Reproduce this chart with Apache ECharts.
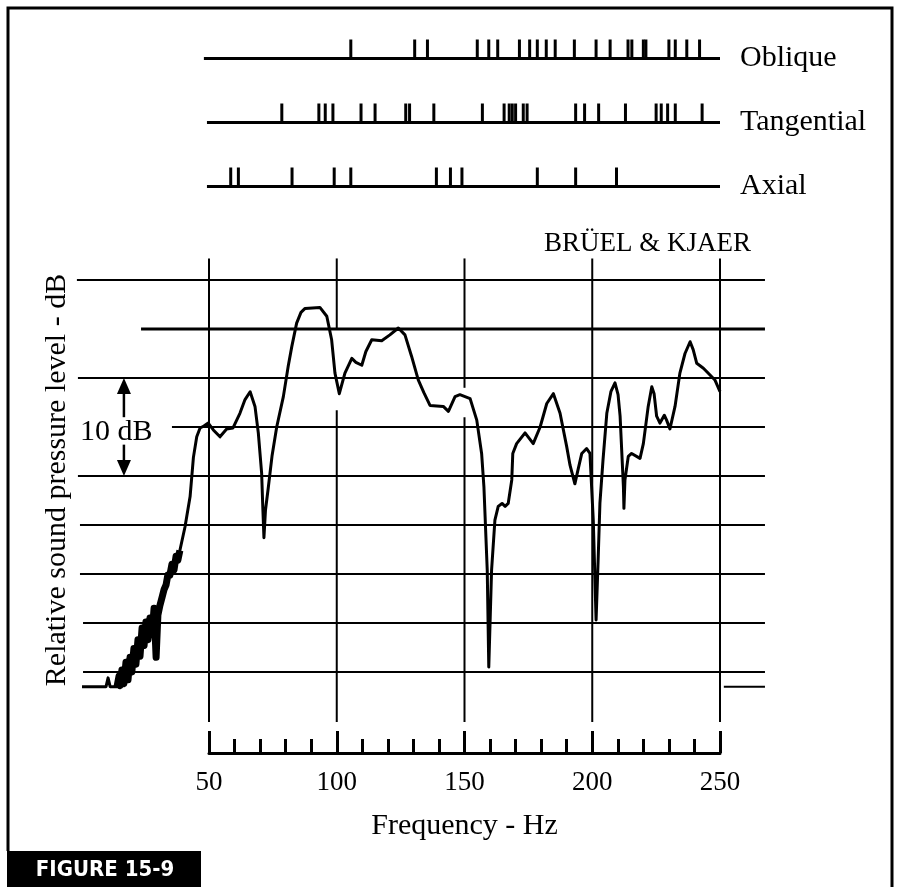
<!DOCTYPE html>
<html><head><meta charset="utf-8">
<script src="https://cdn.jsdelivr.net/npm/echarts@6/dist/echarts.min.js"></script>
<style>html,body{margin:0;padding:0;background:#fff}#c{width:900px;height:887px}</style>
</head><body><div id="c"></div>
<script>
// ---- measured response curve (frequency in Hz, relative level in dB) ----
const freqHz = [0.3,7.3,9.7,10.5,11.3,14.0,14.8,15.2,15.9,16.7,
17.5,18.3,19.1,19.8,20.6,21.4,22.2,23.0,23.8,24.6,
25.3,26.1,26.9,27.7,28.5,29.3,30.0,30.8,31.6,32.4,
33.2,33.9,34.7,35.5,36.3,37.1,37.8,38.6,40.6,42.6,
43.9,45.2,46.5,48.0,49.7,51.7,54.3,56.9,59.4,62.1,
64.1,66.1,68.0,69.3,70.6,71.1,71.5,72.1,73.2,74.7,
76.5,79.1,81.0,82.4,84.3,86.0,87.6,93.4,96.1,98.0,
99.3,101.0,103.2,105.9,107.5,109.8,111.4,113.7,117.6,120.8,
124.1,126.7,129.3,131.9,134.1,136.5,141.7,143.7,146.3,148.2,
152.2,154.8,156.7,157.6,158.9,159.5,160.6,161.9,163.2,164.7,
165.9,167.1,168.5,168.9,170.4,173.7,176.9,179.6,182.2,184.8,
187.4,190.0,191.3,193.2,194.4,195.9,197.8,199.1,200.4,201.5,
202.3,203.0,204.2,205.7,207.3,208.9,210.1,210.9,212.2,212.4,
212.8,214.1,215.4,218.7,220.0,221.9,223.3,224.2,225.2,226.5,
228.2,229.1,230.4,232.4,234.3,236.3,238.3,239.5,240.9,243.5,
246.1,248.0,250.0];
const levelDb = [-1.5,-1.5,-1.5,-0.6,-1.5,-1.5,-0.4,-1.4,0.2,-1.2,
1.0,-0.8,1.5,0,2.4,0.8,3.3,1.6,4.5,2.7,
5.1,3.3,5.5,3.8,6.5,1.5,5.8,6.8,7.6,8.4,
8.9,9.9,9.9,11.0,10.4,11.8,11.4,12.4,14.8,17.9,
21.9,24.0,24.9,25.1,25.4,24.7,24.0,24.8,24.9,26.4,
27.8,28.6,27.1,24.4,20.3,16.5,13.7,16.5,18.8,22.1,
25.0,28.1,31.2,33.2,35.6,36.7,37.1,37.2,36.3,33.9,
30.5,28.4,30.5,32.0,31.6,31.3,32.7,33.9,33.8,34.4,
35.1,34.4,32.2,29.8,28.5,27.2,27.1,26.6,28.1,28.3,
27.9,25.7,22.3,18.9,10.4,0.5,10.4,15.5,16.9,17.2,
16.9,17.2,19.6,22.3,23.3,24.4,23.3,25.0,27.4,28.4,
26.4,23.0,21.1,19.2,20.6,22.3,22.8,22.3,15.5,5.3,
11.4,17.2,21.6,26.4,28.6,29.5,28.3,26.1,18.9,16.7,
19.6,22.0,22.3,21.8,23.3,27.1,29.1,28.4,26.1,25.4,
26.2,25.7,24.8,27.1,30.5,32.5,33.7,32.9,31.5,31.0,
30.3,29.8,28.6];
// noisy low-frequency stretch of the trace (Hz range)
const noisyFromHz = 14.0, noisyToHz = 38.6;

// ---- room mode frequencies (Hz) ----
const modeRows = ['Oblique','Tangential','Axial'];
const obliqueModes = [105.5,130.5,135.5,155,159.5,163,171.5,175.5,178.5,182,185.5,193,201.5,207,214,215.5,220,221,230,232.5,237,242];
const tangentialModes = [78.5,93,95.5,98.5,109.5,115,127,128.5,138,157,165.5,167.5,168.7,170,173,174.5,193.5,197,202.5,213,225,227,229.5,232.5,243];
const axialModes = [58.5,61.5,82.5,99,105.5,139,144.5,149,178.5,193.5,209.5];
const modeLineStartHz = [48, 49.2, 49.2];
const modeLineEndHz = 250;

// ---- chart paper grid (dB and Hz) ----
const gridDb = [40,35,30,25,20,15,10,5,0];
const gridDbStartHz = [-1.7,23.4,-1.3,35.5,-1.3,-0.5,-0.5,0.7,0.7];
const gridEndHz = 267.6;
const stubDb = -1.5, stubStartHz = 251.5;
const vGridHz = [50,100,150,200,250];
const vGridTopDb = 42.2, vGridBottomDb = -5.1;
const vGapHz = [100,150];
const vGapLowDb = [26.7,26.0];
const vGapHighDb = [35.1,29.0];
const freqTickLabels = [50,100,150,200,250];
const arrowHz = 16.7;
const arrowFromDb = [26.0,23.2];
const arrowToDb = [30,20];

const SERIF = '"Liberation Serif","Times New Roman",serif';

const curveData = freqHz.map((f,i)=>[f, levelDb[i]]);
const noisyData = curveData.filter(d=>d[0]>=noisyFromHz && d[0]<=noisyToHz);
const modeData = [];
[obliqueModes, tangentialModes, axialModes].forEach((arr,r)=>arr.forEach(f=>modeData.push([f,r])));
const modeLines = modeRows.map((n,r)=>[modeLineStartHz[r], modeLineEndHz, r]);
const hSegs = gridDb.map((db,i)=>[gridDbStartHz[i], gridEndHz, db, db]);
hSegs.push([stubStartHz, gridEndHz, stubDb, stubDb]);
const vSegs = [];
vGridHz.forEach(f=>{
  const gi = vGapHz.indexOf(f);
  if (gi < 0) vSegs.push([f,f,vGridBottomDb,vGridTopDb]);
  else { vSegs.push([f,f,vGridBottomDb,vGapLowDb[gi]]); vSegs.push([f,f,vGapHighDb[gi],vGridTopDb]); }
});
const arrows = arrowFromDb.map((d,i)=>[arrowHz, d, arrowToDb[i]]);

function segItem(api, lw){
  const a = api.coord([api.value(0), api.value(2)]);
  const b = api.coord([api.value(1), api.value(3)]);
  return {type:'line', shape:{x1:a[0],y1:a[1],x2:b[0],y2:b[1]}, style:{stroke:'#000', lineWidth:lw, fill:null}};
}

const chart = echarts.init(document.getElementById('c'), null, {renderer:'canvas'});
chart.setOption({
  backgroundColor:'#fff',
  animation:false,
  grid:[
    {left:183.45, width:536.55, top:26.5, height:192, containLabel:false, outerBoundsMode:'none'},
    {left:71.03, width:700.07, top:250.6, height:480.2, containLabel:false, outerBoundsMode:'none'},
    {left:209, width:511, top:700, height:53, containLabel:false, outerBoundsMode:'none'}
  ],
  xAxis:[
    {gridIndex:0, type:'value', min:40, max:250, show:false},
    {gridIndex:1, type:'value', min:-4, max:270, show:false},
    {gridIndex:2, type:'value', min:50, max:250, interval:50, position:'bottom',
      axisLine:{show:true, lineStyle:{color:'#000', width:3}},
      axisTick:{show:true, inside:true, length:22, lineStyle:{color:'#000', width:3}},
      minorTick:{show:true, splitNumber:5, length:14, lineStyle:{color:'#000', width:3}},
      splitLine:{show:false},
      axisLabel:{color:'#000', fontSize:27, fontFamily:SERIF, margin:16,
        formatter:v=>freqTickLabels.indexOf(v)>=0 ? String(v) : ''},
      name:'Frequency - Hz', nameLocation:'middle', nameGap:58,
      nameTextStyle:{color:'#000', fontSize:30, fontFamily:SERIF}}
  ],
  yAxis:[
    {gridIndex:0, type:'category', data:modeRows, inverse:true, position:'right',
      axisLine:{show:false}, axisTick:{show:false}, splitLine:{show:false},
      axisLabel:{color:'#000', fontSize:30, fontFamily:SERIF, margin:20, padding:[0,0,6,0]}},
    {gridIndex:1, type:'value', min:-6, max:43, show:false},
    {gridIndex:2, type:'value', min:0, max:1, show:false}
  ],
  series:[
    {type:'custom', xAxisIndex:0, yAxisIndex:0, data:modeLines, encode:{x:[0,1], y:2},
      renderItem:(p,api)=>{
        const a = api.coord([api.value(0), api.value(2)]);
        const b = api.coord([api.value(1), api.value(2)]);
        return {type:'line', shape:{x1:a[0],y1:a[1],x2:b[0],y2:b[1]}, style:{stroke:'#000', lineWidth:3}};
      }},
    {type:'custom', xAxisIndex:0, yAxisIndex:0, data:modeData, encode:{x:0, y:1},
      renderItem:(p,api)=>{
        const a = api.coord([api.value(0), api.value(1)]);
        return {type:'line', shape:{x1:a[0],y1:a[1],x2:a[0],y2:a[1]-19}, style:{stroke:'#000', lineWidth:3}};
      }},
    {type:'custom', xAxisIndex:1, yAxisIndex:1, data:hSegs, encode:{x:[0,1], y:[2,3]},
      renderItem:(p,api)=>segItem(api, api.value(2)===35 ? 3 : 2)},
    {type:'custom', xAxisIndex:1, yAxisIndex:1, data:vSegs, encode:{x:[0,1], y:[2,3]},
      renderItem:(p,api)=>segItem(api, 2)},
    {type:'custom', xAxisIndex:1, yAxisIndex:1, data:arrows, encode:{x:0, y:[1,2]},
      renderItem:(p,api)=>{
        const tail = api.coord([api.value(0), api.value(1)]);
        const tip = api.coord([api.value(0), api.value(2)]);
        const dir = tip[1] > tail[1] ? 1 : -1;
        const baseY = tip[1] - dir*16;
        return {type:'group', children:[
          {type:'line', shape:{x1:tail[0],y1:tail[1],x2:tail[0],y2:baseY}, style:{stroke:'#000', lineWidth:2.5}},
          {type:'polygon', shape:{points:[[tip[0],tip[1]],[tip[0]-7,baseY],[tip[0]+7,baseY]]}, style:{fill:'#000'}}
        ]};
      }},
    {type:'line', xAxisIndex:1, yAxisIndex:1, data:curveData, showSymbol:false, symbol:'none',
      lineStyle:{color:'#000', width:3, join:'round'}, silent:true},
    {type:'line', xAxisIndex:1, yAxisIndex:1, data:noisyData, showSymbol:false, symbol:'none',
      lineStyle:{color:'#000', width:7, join:'round'}, silent:true}
  ],
  graphic:[
    {type:'polyline', shape:{points:[[8,851],[8,8],[892,8],[892,887]]}, style:{stroke:'#000', lineWidth:3, fill:null}},
    {type:'rect', shape:{x:7, y:851, width:194, height:36}, style:{fill:'#000'}},
    {type:'text', x:105, y:870, style:{text:'FIGURE 15-9', fill:'#fff', fontSize:22, fontWeight:'bold',
      fontFamily:'"DejaVu Sans Condensed","Liberation Sans Narrow",sans-serif', align:'center', verticalAlign:'middle'}},
    {type:'text', x:751, y:244, style:{text:'BRÜEL & KJAER', fill:'#000', fontSize:27, fontFamily:SERIF, align:'right', verticalAlign:'middle'}},
    {type:'text', x:80, y:432, style:{text:'10 dB', fill:'#000', fontSize:30, fontFamily:SERIF, align:'left', verticalAlign:'middle'}},
    {type:'text', x:57, y:480, rotation:Math.PI/2, style:{text:'Relative sound pressure level - dB', fill:'#000', fontSize:30, fontFamily:SERIF, align:'center', verticalAlign:'middle'}}
  ]
});
</script></body></html>
